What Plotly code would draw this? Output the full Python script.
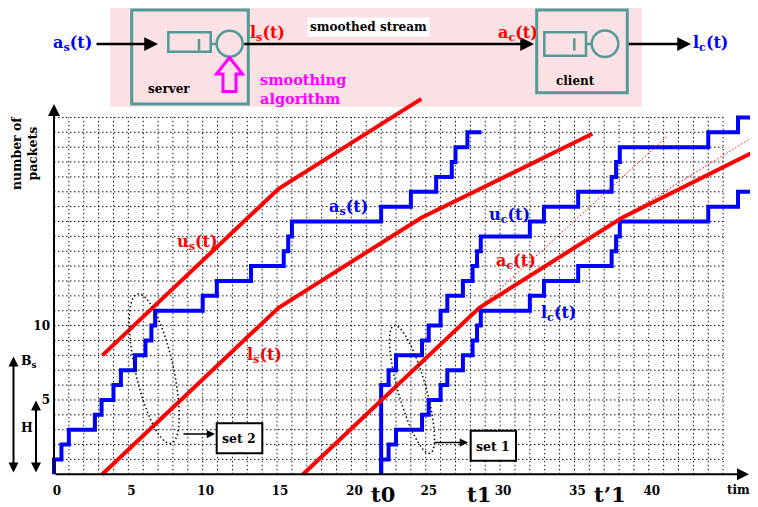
import numpy as np
import plotly.graph_objects as go

# ---------------- data ----------------
# server arrivals a_s(t): jump times and cumulative packets
a_s_t = [0, 0, 0.5, 1.0, 2.75, 3.2, 4.0, 4.5, 5.45, 6.15, 6.55, 6.8, 10.0, 10.95,
         13.25, 15.45, 15.75, 16.0, 22.0, 24.0, 25.7, 26.75, 27.0, 27.8, 28.75]
a_s_n = [0, 1, 2, 3, 4, 5, 6, 7, 8, 9, 10, 11, 12, 13, 14, 15, 16, 17, 18, 19,
         20, 21, 22, 23, 23]

# client playout l_c(t)
l_c_t = [22.0, 22.0, 22.5, 23.0, 24.75, 25.2, 26.0, 26.45, 27.5, 28.15, 28.45,
         28.7, 32.0, 32.95, 35.25, 37.5, 37.8, 38.05, 44.0, 46.0, 47.6]
l_c_n = [0, 1, 2, 3, 4, 5, 6, 7, 8, 9, 10, 11, 12, 13, 14, 15, 16, 17, 18, 19, 19]

# client upper bound u_c(t)
u_c_t = [22.0, 22.0, 22.5, 23.0, 24.75, 25.2, 26.0, 26.45, 27.5, 28.15, 28.45,
         28.7, 32.0, 32.95, 35.25, 37.5, 37.8, 38.05, 44.0, 46.0, 47.6]
u_c_n = [0, 6, 7, 8, 9, 10, 11, 12, 13, 14, 15, 16, 17, 18, 19, 20, 21, 22, 23,
         24, 24]

# smoothed curves
u_s_t = [3.25, 15.1, 24.7]
u_s_n = [8, 19.2, 25.25]
l_s_t = [3.25, 15.1, 24.7, 36.2]
l_s_n = [0, 11.2, 17.25, 22.9]
a_c_t = [16.75, 28.6, 38.2, 47.6]
a_c_n = [0, 11.2, 17.25, 21.95]
d1_t = [28.6, 41.25]
d1_n = [11.2, 22.75]
d2_t = [38.2, 47.6]
d2_n = [17.25, 23.05]

x_ticks = [0, 5, 10, 15, 20, 25, 30, 35, 40]
y_ticks = [5, 10]

# ---------------- layout geometry ----------------
OFF = 8                      # page body margin of the html page
PW, PH = 758, 507            # window size
W, H = PW - OFF, PH - OFF    # figure size
X0, Y0, S = 54.0, 474.3, 14.87   # page pixel of origin, pixels per unit
XR = [-(X0 - OFF) / S, (PW - X0) / S]
YR = [-(PH - Y0) / S, (Y0 - OFF) / S]
GX, GY = 45, 24
FONT = "DejaVu Serif"
RED, BLUE, MAG, TEAL = "#ff0000", "#0000ff", "#ff00ff", "#519a97"


def pxp(x):
    return (x - OFF) / W


def pyp(y):
    return 1 - (y - OFF) / H


fig = go.Figure()

# grid
gx, gy = [], []
for i in range(1, GX + 1):
    gx += [i, i, None]
    gy += [0, GY, None]
for j in range(1, GY + 1):
    gx += [0, GX, None]
    gy += [j, j, None]
fig.add_trace(go.Scatter(x=gx, y=gy, mode="lines", hoverinfo="skip",
                         line=dict(color="#111111", width=1, dash="1.5px,2.5px")))

# blue staircases
for t, n in [(a_s_t, a_s_n), (l_c_t, l_c_n), (u_c_t, u_c_n)]:
    fig.add_trace(go.Scatter(x=t, y=n, mode="lines", line_shape="hv",
                             line=dict(color=BLUE, width=4)))

# thin dotted red
for t, n in [(d1_t, d1_n), (d2_t, d2_n)]:
    fig.add_trace(go.Scatter(x=t, y=n, mode="lines",
                             line=dict(color=RED, width=1, dash="1.5px,2px")))

# thick red
for t, n in [(u_s_t, u_s_n), (l_s_t, l_s_n), (a_c_t, a_c_n)]:
    fig.add_trace(go.Scatter(x=t, y=n, mode="lines",
                             line=dict(color=RED, width=4)))

shapes = []
ann = []


def rect(x0, y0, x1, y1, color, width, fill="rgba(0,0,0,0)", layer="above"):
    shapes.append(dict(type="rect", xref="paper", yref="paper",
                       x0=pxp(x0), x1=pxp(x1), y0=pyp(y1), y1=pyp(y0),
                       line=dict(color=color, width=width), fillcolor=fill,
                       layer=layer))


def seg(x0, y0, x1, y1, color, width, dash="solid"):
    shapes.append(dict(type="line", xref="paper", yref="paper",
                       x0=pxp(x0), x1=pxp(x1), y0=pyp(y0), y1=pyp(y1),
                       line=dict(color=color, width=width, dash=dash)))


def circ(x0, y0, x1, y1, color, width):
    shapes.append(dict(type="circle", xref="paper", yref="paper",
                       x0=pxp(x0), x1=pxp(x1), y0=pyp(y1), y1=pyp(y0),
                       line=dict(color=color, width=width)))


def path(pts, color, width, dash="solid", close=True):
    d = "M " + " L ".join(f"{pxp(a):.5f},{pyp(b):.5f}" for a, b in pts)
    if close:
        d += " Z"
    shapes.append(dict(type="path", xref="paper", yref="paper", path=d,
                       line=dict(color=color, width=width, dash=dash),
                       fillcolor="rgba(0,0,0,0)"))


def txt(x, y, text, size, color="black", **kw):
    ann.append(dict(x=pxp(x), y=pyp(y), xref="paper", yref="paper", text=text,
                    showarrow=False,
                    font=dict(family=FONT, size=size, color=color, weight="bold"),
                    xanchor=kw.pop("xanchor", "center"),
                    yanchor=kw.pop("yanchor", "middle"), **kw))


def arrow(x1, y1, x2, y2, width=2, size=1.0, side="end"):
    d = dict(x=pxp(x2), y=pyp(y2), xref="paper", yref="paper",
             ax=x1 - x2, ay=y1 - y2, axref="pixel", ayref="pixel", text="",
             showarrow=True, arrowhead=2, arrowsize=size, arrowwidth=width,
             arrowcolor="black", arrowside=side, standoff=0, startstandoff=0)
    if "start" in side:
        d["startarrowhead"] = 2
        d["startarrowsize"] = size
    ann.append(d)


# ---------------- header diagram ----------------
rect(110, 7, 642, 107, "rgba(0,0,0,0)", 0, fill="#fbe1e4", layer="below")
rect(131.7, 10, 248.3, 104, TEAL, 3)
rect(168.3, 32.3, 210.7, 51.7, TEAL, 2.5)
seg(199, 39, 199, 50.5, TEAL, 2.5)
seg(210.7, 44, 216.7, 44, TEAL, 2.5)
circ(216.7, 30.7, 242.7, 56.7, TEAL, 2.5)
rect(536.7, 10, 627.3, 92.7, TEAL, 3)
rect(544.3, 32.3, 586, 55.7, TEAL, 2.5)
seg(574.3, 38.3, 574.3, 50.7, TEAL, 2.5)
seg(586, 44, 591.7, 44, TEAL, 2.5)
circ(591.7, 30.5, 618.3, 57, TEAL, 2.5)
path([(229.5, 57.5), (216.5, 74), (223, 74), (223, 91.5), (236, 91.5),
      (236, 74), (242.5, 74)], MAG, 3)

arrow(95, 44, 158, 44, width=2.5, size=1.1)
arrow(242.7, 44, 534, 44, width=2.5, size=1.1)
arrow(627.3, 44, 691, 44, width=2.5, size=1.1)

txt(72, 44, "a<sub>s</sub>(t)", 16, BLUE)
txt(267, 33, "l<sub>s</sub>(t)", 16, RED)
txt(368, 27, "smoothed stream", 12, bgcolor="white", borderpad=2)
txt(518, 33, "a<sub>c</sub>(t)", 16, RED)
txt(710, 44, "l<sub>c</sub>(t)", 16, BLUE)
txt(169, 89, "server", 12)
txt(575, 81, "client", 12)
txt(258, 89, "smoothing<br>algorithm", 14.5, MAG, xanchor="left", align="left")

# ---------------- plot decorations ----------------
arrow(X0, Y0, 749, Y0, width=2, size=1.2)
arrow(X0, Y0, X0, 104, width=2, size=1.2)
arrow(13.5, 474, 13.5, 356.5, width=2, size=1.0, side="end+start")
arrow(36, 474, 36, 400.5, width=2, size=1.0, side="end+start")
txt(29, 361, "B<sub>s</sub>", 12.5)
txt(27, 427, "H", 12.5)
txt(25, 153, "number of<br>packets", 12.5, textangle=-90)
txt(742, 490, "time", 12)
txt(383, 494, "t0", 21)
txt(479, 494, "t1", 21)
txt(610, 494, "t\u20191", 21)

# curve labels
txt(197, 242, "u<sub>s</sub>(t)", 16, RED)
txt(348, 208, "a<sub>s</sub>(t)", 16, BLUE)
txt(264, 355, "l<sub>s</sub>(t)", 16, RED)
txt(509, 215, "u<sub>c</sub>(t)", 16, BLUE)
txt(516, 262, "a<sub>c</sub>(t)", 16, RED)
txt(558, 313, "l<sub>c</sub>(t)", 16, BLUE)


# set ellipses (dotted)
def ellipse(cx, cy, a, b, ux, uy):
    nrm = (ux * ux + uy * uy) ** 0.5
    ux, uy = ux / nrm, uy / nrm
    vx, vy = -uy, ux
    th = np.linspace(0, 2 * np.pi, 73)
    pts = [(cx + a * np.cos(t) * ux + b * np.sin(t) * vx,
            cy + a * np.cos(t) * uy + b * np.sin(t) * vy) for t in th]
    path(pts, "#111111", 1.6, dash="1.5px,2.5px", close=False)


ellipse(154.2, 368.7, 76.6, 19, 33.5, 149.5)
ellipse(412, 389.4, 66.4, 14, 36, 127.8)

arrow(182, 434, 215, 434, width=1.5, size=1.1)
rect(216.7, 423.3, 262.3, 453.3, "black", 2, fill="white")
txt(239.5, 438.5, "set 2", 12.5)
arrow(433, 442.5, 468, 442.5, width=1.5, size=1.1)
rect(470.7, 430.7, 516, 460.7, "black", 2, fill="white")
txt(493.3, 446, "set 1", 12.5)

fig.update_layout(
    width=W, height=H, margin=dict(l=0, r=0, t=0, b=0),
    paper_bgcolor="white", plot_bgcolor="white", showlegend=False,
    font=dict(family=FONT, color="black"),
    shapes=shapes, annotations=ann,
    xaxis=dict(range=XR, domain=[0, 1], anchor="free", position=pyp(Y0),
               showgrid=False, zeroline=False, showline=False,
               tickvals=x_ticks, ticktext=[str(v) for v in x_ticks],
               ticklabelstandoff=8, ticklabelshift=3,
               tickfont=dict(family=FONT, size=12, color="black", weight="bold"),
               fixedrange=True),
    yaxis=dict(range=YR, domain=[0, 1], anchor="free", position=pxp(X0),
               showgrid=False, zeroline=False, showline=False,
               tickvals=y_ticks, ticktext=[str(v) for v in y_ticks],
               ticklabelstandoff=4,
               tickfont=dict(family=FONT, size=12, color="black", weight="bold"),
               fixedrange=True),
)

fig.write_html("out.html")
